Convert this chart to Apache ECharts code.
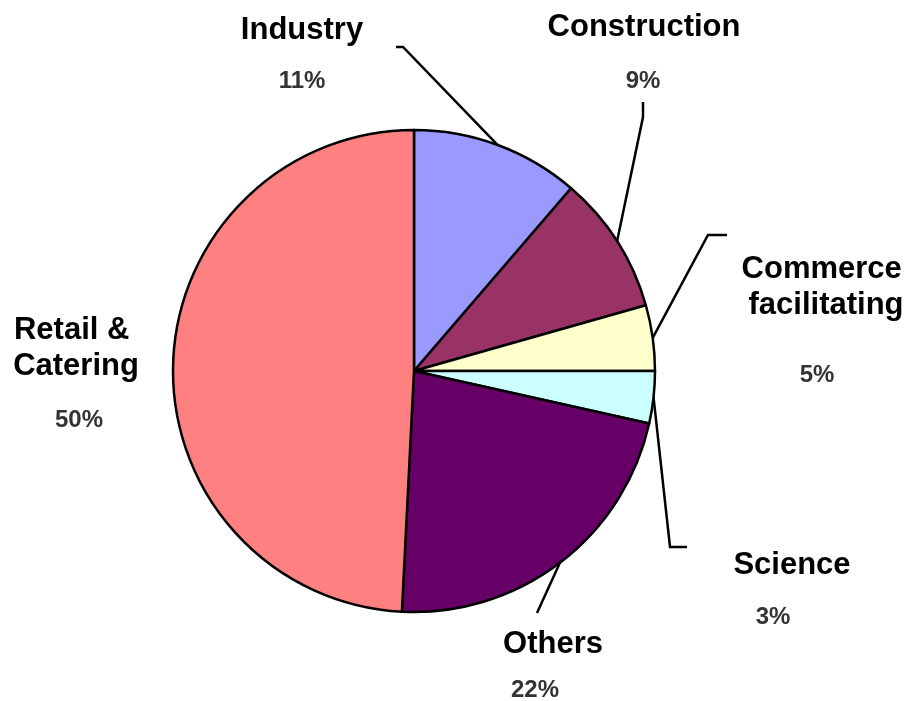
<!DOCTYPE html>
<html>
<head>
<meta charset="utf-8">
<script src="https://cdn.jsdelivr.net/npm/echarts@6/dist/echarts.min.js"></script>
<style>
html,body{margin:0;padding:0;background:#fff;}
#c{width:915px;height:701px;}
</style>
</head>
<body>
<div id="c"></div>
<script>
// ---- data ----
const categories = ['Industry', 'Construction', 'Commerce facilitating', 'Science', 'Others', 'Retail & Catering'];
const shares = [11.3, 9.3, 4.4, 3.5, 22.3, 49.2];            // slice sizes as drawn
const percentLabels = ['11%', '9%', '5%', '3%', '22%', '50%']; // printed labels
const colors = ['#9999FF', '#993366', '#FFFFCC', '#CCFFFF', '#660066', '#FF8080'];

// ---- layout (label placement, leader line bends) ----
const namePos = [[302, 30], [644, 27], [826, 287], [792, 565], [553, 644], [76, 348]];
const pctPos = [[302, 81], [643, 81], [817, 375], [773, 617], [535, 690], [79, 420]];
const leaderEnds = [
  [[403, 47], [396, 47]],
  [[643, 117], [643, 102]],
  [[708, 235], [727, 235]],
  [[670, 547], [687, 547]],
  [[537, 613]],
  null
];

const FONT = 'Arial, "Liberation Sans", sans-serif';
const chart = echarts.init(document.getElementById('c'), null, {renderer: 'canvas'});

const sliceData = categories.map((name, i) => ({
  name: name,
  value: shares[i],
  itemStyle: {color: colors[i]},
  labelLine: {show: leaderEnds[i] !== null}
}));
const pctData = categories.map((name, i) => ({name: name, value: shares[i]}));

chart.setOption({
  backgroundColor: '#ffffff',
  animation: false,
  series: [
    {
      type: 'pie',
      center: [414, 371],
      radius: 241,
      startAngle: 90,
      clockwise: true,
      avoidLabelOverlap: false,
      silent: true,
      data: sliceData,
      itemStyle: {borderColor: '#000', borderWidth: 2.5},
      label: {
        show: true,
        position: 'outside',
        formatter: '{b}',
        fontFamily: FONT,
        fontWeight: 'bold',
        fontSize: 31,
        lineHeight: 36,
        color: '#000',
        width: 210,
        overflow: 'break',
        align: 'center'
      },
      labelLine: {show: true, length: 10, length2: 10, lineStyle: {color: '#000', width: 2.5}},
      labelLayout: function (p) {
        const i = p.dataIndex;
        const out = {x: namePos[i][0], y: namePos[i][1], align: 'center', verticalAlign: 'middle'};
        if (leaderEnds[i] && p.labelLinePoints) {
          out.labelLinePoints = [p.labelLinePoints[0]].concat(leaderEnds[i]);
        }
        return out;
      }
    },
    {
      type: 'pie',
      center: [414, 371],
      radius: 241,
      startAngle: 90,
      clockwise: true,
      avoidLabelOverlap: false,
      silent: true,
      data: pctData,
      itemStyle: {color: 'rgba(0,0,0,0)', borderWidth: 0},
      label: {
        show: true,
        position: 'outside',
        formatter: function (p) { return percentLabels[p.dataIndex]; },
        fontFamily: FONT,
        fontWeight: 'bold',
        fontSize: 24,
        color: '#333'
      },
      labelLine: {show: false},
      labelLayout: function (p) {
        const i = p.dataIndex;
        return {x: pctPos[i][0], y: pctPos[i][1], align: 'center', verticalAlign: 'middle'};
      }
    }
  ]
});
</script>
</body>
</html>
